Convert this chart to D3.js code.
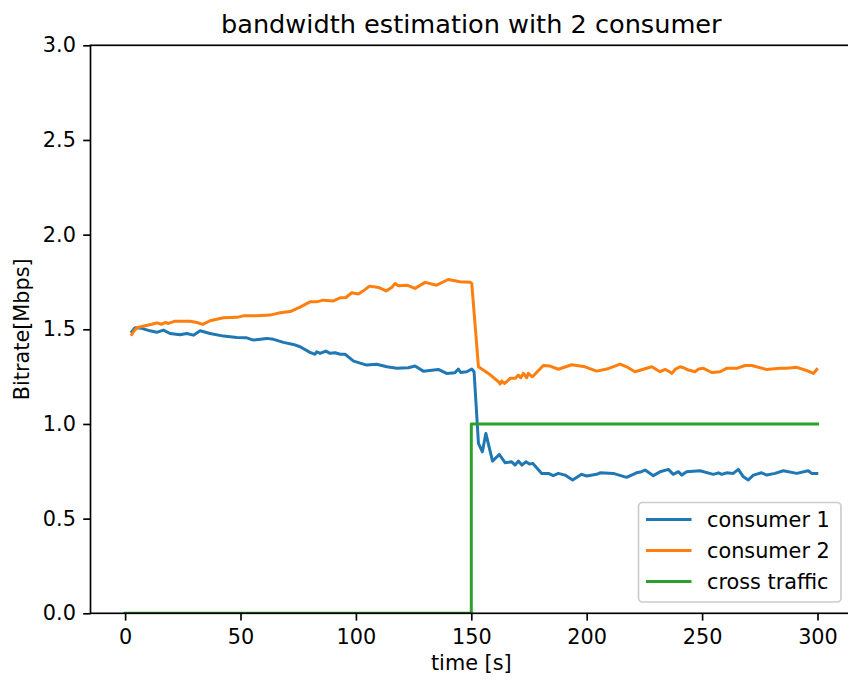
<!DOCTYPE html>
<html>
<head>
<meta charset="utf-8">
<script src="https://cdn.jsdelivr.net/npm/d3@7"></script>
<style>
  html, body { margin: 0; padding: 0; background: #fff; }
  svg { display: block; font-family: "DejaVu Sans", sans-serif; }
</style>
</head>
<body>
<svg id="chart" width="848" height="680"></svg>
<script>
// Time stamps [s] and estimated bitrate [Mbps] per consumer
const c1Time = [2.9,4.3,7.2,10.8,13.7,16.6,19.5,23.8,26.7,29.6,32.5,36.8,42.6,48.4,52.7,55.6,61.4,64.3,68.6,72.9,75.8,80.1,82.3,83,84.5,87,88.8,91,93.2,95.3,99,104.7,109,113.4,117.7,122.7,125.6,129.2,135.7,139.3,142.9,144.4,145.4,148,150.2,151.2,153.1,154.8,156.3,159.2,162.1,164.7,167.5,169,170.4,171.9,173.7,175.2,176.6,180.5,183.4,185.5,187.7,190.6,193.9,197.8,200,204.3,205.8,211.5,217.3,221.6,223.8,225.3,228.9,231.8,235.4,237.5,239.7,241.2,243.3,249.1,254.9,257.1,258.5,260.6,263.5,265.7,267.9,270,272.2,275.8,278,281.6,285.2,291,296,297.5,299.7];
const c1Rate = [1.487,1.508,1.505,1.492,1.484,1.496,1.478,1.471,1.478,1.469,1.492,1.478,1.464,1.457,1.455,1.443,1.452,1.447,1.431,1.420,1.408,1.378,1.368,1.381,1.373,1.385,1.373,1.376,1.368,1.368,1.332,1.311,1.315,1.302,1.294,1.297,1.306,1.279,1.288,1.267,1.270,1.290,1.272,1.276,1.290,1.276,0.898,0.853,0.950,0.804,0.839,0.795,0.800,0.783,0.804,0.783,0.800,0.788,0.792,0.739,0.739,0.727,0.739,0.730,0.704,0.734,0.725,0.734,0.742,0.739,0.718,0.742,0.748,0.757,0.727,0.748,0.760,0.734,0.748,0.730,0.748,0.753,0.734,0.742,0.734,0.742,0.739,0.760,0.721,0.704,0.730,0.742,0.730,0.739,0.753,0.739,0.753,0.739,0.739];

const c2Time = [2.9,3.6,5.1,8.7,11.6,13.7,15.9,17.3,18.8,21.7,28.2,31.1,33.7,36.8,42.6,48.4,51.3,57.1,62.8,67.2,71.5,75.8,80.1,83,85.9,90.2,93.2,95.7,98.2,101.1,103.2,105.9,109.8,113.1,115.5,117,118.4,122.1,125.6,130,135,140,145.1,149.5,150.2,153.1,157.4,161.8,162.5,163.2,164.3,165.3,166.8,169,170.4,171.4,172.6,174,174.7,176.5,181.2,184.1,187.7,193.5,199.3,204.3,208.7,214.5,217.3,220.9,228.2,231.8,234,235.9,236.9,238.3,240.5,241.9,244.1,247,248.4,250.6,254.2,257.8,260.6,265,268.6,271.5,278,283.8,286.6,291,294.6,296,298.2,299.7];
const c2Rate = [1.473,1.487,1.508,1.519,1.527,1.534,1.527,1.536,1.531,1.543,1.543,1.536,1.526,1.545,1.561,1.563,1.571,1.571,1.575,1.587,1.594,1.617,1.645,1.645,1.654,1.650,1.666,1.668,1.693,1.686,1.703,1.728,1.721,1.703,1.721,1.742,1.730,1.733,1.716,1.748,1.733,1.763,1.751,1.748,1.742,1.302,1.267,1.223,1.211,1.227,1.214,1.223,1.241,1.241,1.258,1.244,1.267,1.244,1.267,1.249,1.309,1.306,1.289,1.313,1.302,1.279,1.290,1.316,1.302,1.276,1.302,1.276,1.288,1.276,1.267,1.288,1.302,1.297,1.285,1.276,1.290,1.294,1.272,1.276,1.294,1.294,1.309,1.309,1.288,1.294,1.294,1.299,1.285,1.279,1.267,1.288];

// Cross traffic: off until 150 s, then 1 Mbps
const crossTime = [0, 150, 150, 300];
const crossRate = [0, 0, 1, 1];

const seriesNames = ["consumer 1", "consumer 2", "cross traffic"];
const seriesColors = ["#1f77b4", "#ff7f0e", "#2ca02c"];

const xTicks = [0, 50, 100, 150, 200, 250, 300];
const yTicks = [0, 0.5, 1.0, 1.5, 2.0, 2.5, 3.0];

const titleText = "bandwidth estimation with 2 consumer";
const xLabel = "time [s]";
const yLabel = "Bitrate[Mbps]";

// Layout
const plotLeft = 90.5, plotTop = 45.3, plotW = 761.6, plotH = 568;
const fs = 20.8;

const svg = d3.select("#chart");
const x = d3.scaleLinear().domain([-15, 315]).range([plotLeft, plotLeft + plotW]);
const y = d3.scaleLinear().domain([0, 3]).range([plotTop + plotH, plotTop]);

svg.append("defs").append("clipPath").attr("id", "plotclip")
  .append("rect").attr("x", plotLeft).attr("y", plotTop).attr("width", plotW).attr("height", plotH);

const series = [
  { t: c1Time, v: c1Rate },
  { t: c2Time, v: c2Rate },
  { t: crossTime, v: crossRate }
];

const line = d3.line().x(d => x(d[0])).y(d => y(d[1]));
const lines = svg.append("g").attr("clip-path", "url(#plotclip)");
series.forEach((s, i) => {
  const pts = s.t.map((t, k) => [t, s.v[k]]);
  lines.append("path").datum(pts)
    .attr("d", line)
    .attr("fill", "none")
    .attr("stroke", seriesColors[i])
    .attr("stroke-width", 3.0)
    .attr("stroke-linejoin", "round")
    .attr("stroke-linecap", "square");
});

// Axes
const tickLen = 7.3, tickPad = 7.3;
const xAxis = d3.axisBottom(x).tickValues(xTicks).tickFormat(d3.format("d"))
  .tickSizeInner(tickLen).tickSizeOuter(0).tickPadding(tickPad);
const yAxis = d3.axisLeft(y).tickValues(yTicks).tickFormat(d3.format(".1f"))
  .tickSizeInner(tickLen).tickSizeOuter(0).tickPadding(tickPad);

const gx = svg.append("g").attr("transform", `translate(0,${plotTop + plotH})`).call(xAxis);
const gy = svg.append("g").attr("transform", `translate(${plotLeft},0)`).call(yAxis);
[gx, gy].forEach(g => {
  g.select(".domain").remove();
  g.selectAll(".tick line").attr("stroke", "#000").attr("stroke-width", 1.67);
  g.selectAll(".tick text").attr("fill", "#000")
    .style("font-size", fs + "px").style("font-family", "DejaVu Sans");
});
gx.selectAll(".tick text").attr("dy", "0.76em");

// Spines
const spines = svg.append("g").attr("stroke", "#000").attr("stroke-width", 1.67).attr("fill", "none");
spines.append("rect").attr("x", plotLeft).attr("y", plotTop).attr("width", plotW).attr("height", plotH);

// Title and axis labels
svg.append("text").attr("x", plotLeft + plotW / 2).attr("y", 33)
  .attr("text-anchor", "middle").style("font-size", "25.6px").text(titleText);
svg.append("text").attr("x", x(150)).attr("y", 670)
  .attr("text-anchor", "middle").style("font-size", fs + "px").text(xLabel);
svg.append("text").attr("transform", `translate(29,${plotTop + plotH / 2}) rotate(-90)`)
  .attr("text-anchor", "middle").style("font-size", fs + "px").text(yLabel);

// Legend
const lg = svg.append("g");
lg.append("rect").attr("x", 638.5).attr("y", 502.5).attr("width", 202.5).attr("height", 99.5)
  .attr("rx", 4).attr("fill", "#fff").attr("fill-opacity", 0.8)
  .attr("stroke", "#cccccc").attr("stroke-width", 1.67);
seriesNames.forEach((name, i) => {
  const cy = 519.5 + i * 31;
  lg.append("line").attr("x1", 646).attr("x2", 691.5).attr("y1", cy).attr("y2", cy)
    .attr("stroke", seriesColors[i]).attr("stroke-width", 3.0);
  lg.append("text").attr("x", 707).attr("y", cy + 7.5)
    .style("font-size", fs + "px").text(name);
});
</script>
</body>
</html>
